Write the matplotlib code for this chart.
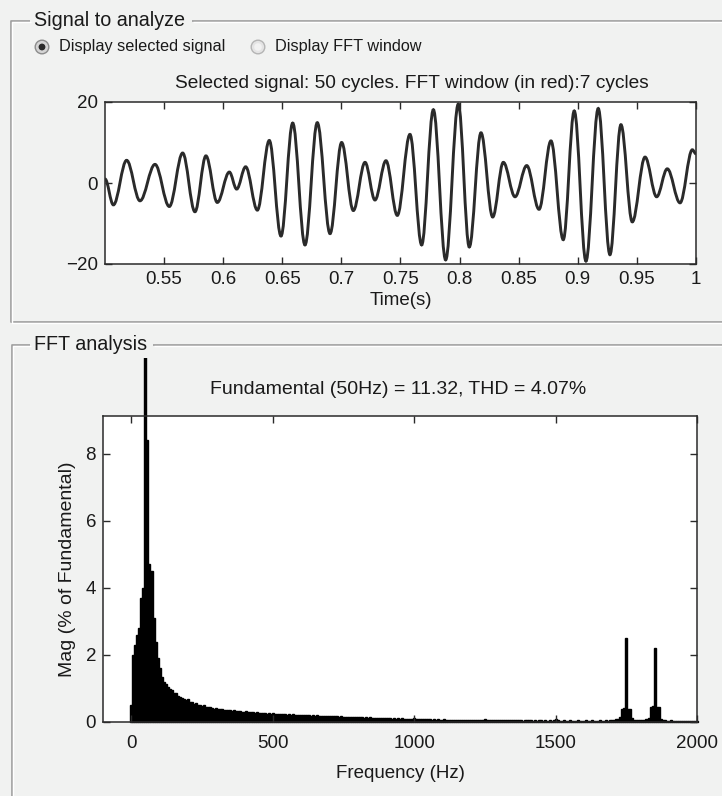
import numpy as np
import matplotlib
matplotlib.use("Agg")
import matplotlib.pyplot as plt
from matplotlib.path import Path
from matplotlib.patches import PathPatch, Circle, Rectangle

plt.rcParams['font.family'] = ['Liberation Sans', 'DejaVu Sans']

# ---------------- data ----------------
# extremes of the selected signal (time s, value)
sig_t = [0.5000, 0.5071, 0.5183, 0.5296, 0.5423, 0.5544, 0.5657, 0.5761, 0.5854, 0.5950,
         0.6052, 0.6114, 0.6190, 0.6289, 0.6390, 0.6489, 0.6588, 0.6692, 0.6796, 0.6904,
         0.7002, 0.7101, 0.7200, 0.7284, 0.7377, 0.7473, 0.7580, 0.7679, 0.7778, 0.7882,
         0.7989, 0.8082, 0.8181, 0.8280, 0.8370, 0.8469, 0.8568, 0.8672, 0.8773, 0.8877,
         0.8970, 0.9069, 0.9173, 0.9272, 0.9365, 0.9461, 0.9569, 0.9667, 0.9757, 0.9865,
         0.9969, 1.0000]
sig_v = [1.0, -5.4, 5.6, -4.4, 4.6, -5.8, 7.4, -7.1, 6.7, -4.8,
         2.7, -1.5, 4.0, -6.7, 10.5, -13.1, 14.8, -15.3, 14.9, -12.5,
         10.0, -6.8, 5.1, -4.2, 5.5, -8.0, 12.0, -15.3, 18.1, -19.0,
         19.5, -15.8, 12.4, -8.4, 5.1, -3.4, 4.3, -6.5, 10.4, -14.0,
         17.8, -19.3, 18.4, -17.7, 14.4, -9.6, 6.4, -3.4, 3.5, -4.9,
         8.2, 7.2]

time_ticks = [0.55, 0.6, 0.65, 0.7, 0.75, 0.8, 0.85, 0.9, 0.95, 1.0]
time_tick_labels = ['0.55', '0.6', '0.65', '0.7', '0.75', '0.8', '0.85', '0.9', '0.95', '1']
sig_yticks = [-20, 0, 20]

# FFT spectrum, bin resolution 50/7 Hz (7-cycle window), values in % of fundamental
bin_hz = 50.0 / 7.0
mag = [
    0.50, 2.00, 2.30, 2.60, 2.80, 3.70, 4.00, 100.0, 8.40, 4.70,
    4.50, 3.10, 2.40, 1.90, 1.60, 1.35, 1.20, 1.12, 1.05, 0.98,
    0.95, 0.88, 0.86, 0.78, 0.76, 0.72, 0.70, 0.66, 0.68, 0.61,
    0.60, 0.55, 0.57, 0.52, 0.50, 0.48, 0.50, 0.45, 0.44, 0.46,
    0.42, 0.40, 0.43, 0.39, 0.38, 0.40, 0.36, 0.37, 0.35, 0.36,
    0.34, 0.35, 0.33, 0.32, 0.34, 0.31, 0.30, 0.32, 0.30, 0.29,
    0.30, 0.28, 0.29, 0.27, 0.28, 0.26, 0.27, 0.25, 0.27, 0.25,
    0.26, 0.24, 0.25, 0.23, 0.25, 0.23, 0.24, 0.22, 0.23, 0.22,
    0.23, 0.21, 0.22, 0.21, 0.22, 0.20, 0.21, 0.20, 0.21, 0.19,
    0.20, 0.19, 0.20, 0.18, 0.19, 0.18, 0.19, 0.17, 0.18, 0.17,
    0.18, 0.17, 0.17, 0.16, 0.17, 0.16, 0.16, 0.15, 0.16, 0.15,
    0.15, 0.14, 0.16, 0.14, 0.15, 0.13, 0.14, 0.13, 0.14, 0.12,
    0.13, 0.12, 0.13, 0.12, 0.12, 0.11, 0.12, 0.11, 0.12, 0.10,
    0.11, 0.10, 0.11, 0.10, 0.11, 0.09, 0.10, 0.09, 0.10, 0.09,
    0.12, 0.09, 0.09, 0.08, 0.09, 0.08, 0.09, 0.08, 0.08, 0.07,
    0.08, 0.07, 0.08, 0.07, 0.07, 0.08, 0.07, 0.06, 0.07, 0.07,
    0.06, 0.07, 0.06, 0.07, 0.06, 0.06, 0.07, 0.06, 0.06, 0.05,
    0.06, 0.07, 0.06, 0.05, 0.06, 0.08, 0.06, 0.05, 0.06, 0.05,
    0.06, 0.05, 0.06, 0.05, 0.05, 0.06, 0.07, 0.05, 0.05, 0.06,
    0.05, 0.05, 0.06, 0.05, 0.04, 0.05, 0.05, 0.06, 0.05, 0.04,
    0.05, 0.04, 0.05, 0.05, 0.04, 0.05, 0.04, 0.05, 0.04, 0.05,
    0.10, 0.05, 0.04, 0.04, 0.05, 0.04, 0.04, 0.05, 0.04, 0.04,
    0.04, 0.05, 0.04, 0.04, 0.04, 0.05, 0.04, 0.04, 0.05, 0.04,
    0.04, 0.04, 0.05, 0.04, 0.04, 0.05, 0.04, 0.05, 0.06, 0.07,
    0.08, 0.10, 0.14, 0.40, 0.42, 2.50, 0.40, 0.38, 0.12, 0.07,
    0.05, 0.05, 0.06, 0.05, 0.06, 0.08, 0.12, 0.45, 0.48, 2.22,
    0.46, 0.44, 0.10, 0.06, 0.05, 0.04, 0.04, 0.05, 0.04, 0.04,
    0.04, 0.04, 0.03, 0.04, 0.04, 0.03, 0.04, 0.03, 0.04, 0.03, 0.03,
]
freq_ticks = [0, 500, 1000, 1500, 2000]
mag_yticks = [0, 2, 4, 6, 8]

title_top = "Selected signal: 50 cycles. FFT window (in red):7 cycles"
title_bot = "Fundamental (50Hz) = 11.32, THD = 4.07%"

# ---------------- figure ----------------
W, H = 722, 796
BG = '#f1f2f1'
fig = plt.figure(figsize=(W / 100, H / 100), dpi=100, facecolor=BG)

# background/decoration layer in pixel coordinates
axbg = fig.add_axes([0, 0, 1, 1], zorder=-1)
axbg.set_xlim(0, W)
axbg.set_ylim(H, 0)
axbg.axis('off')


def px_axes(l, t, r, b):
    return fig.add_axes([l / W, 1 - b / H, (r - l) / W, (b - t) / H])


def frame_line(xs, ys):
    axbg.plot(xs, ys, color='#a3a3a3', lw=1.3, solid_capstyle='butt')
    axbg.plot([x + 1.3 for x in xs], [y + 1.3 for y in ys], color='#ffffff', lw=1.0,
              solid_capstyle='butt')


# Panel 1: "Signal to analyze"
frame_line([30, 11, 11, 722], [21, 21, 322, 322])
frame_line([192, 722], [21, 21])
axbg.text(34, 20, "Signal to analyze", fontsize=14.2, va='center', ha='left', color='#1a1a1a')
# Panel 2: "FFT analysis"
frame_line([30, 12, 12], [345, 345, 796])
frame_line([153, 722], [345, 345])
axbg.text(34, 344, "FFT analysis", fontsize=14.2, va='center', ha='left', color='#1a1a1a')

# radio buttons
axbg.add_patch(Circle((42, 47), 6.8, facecolor='#d4d4d4', edgecolor='#8c8c8c', lw=1.0))
axbg.add_patch(Circle((42, 47), 3.4, facecolor='#2a2a2a', edgecolor='none'))
axbg.text(59, 47, "Display selected signal", fontsize=11.7, va='center', ha='left', color='#1a1a1a')
axbg.add_patch(Circle((258, 47), 6.8, facecolor='#e4e4e4', edgecolor='#b4b4b4', lw=1.0))
axbg.add_patch(Circle((258, 47), 3.8, facecolor='#f2f2f2', edgecolor='none'))
axbg.text(275, 47, "Display FFT window", fontsize=11.7, va='center', ha='left', color='#1a1a1a')

# titles
axbg.text(412, 83, title_top, fontsize=13.8, ha='center', va='center', color='#1a1a1a')
axbg.text(398, 390, title_bot, fontsize=14.0, ha='center', va='center', color='#1a1a1a')


def style(ax):
    ax.set_facecolor('white')
    for s in ax.spines.values():
        s.set_linewidth(1.1)
        s.set_color('#2a2a2a')
    ax.tick_params(direction='in', top=True, right=True, length=5, width=1.0,
                   colors='#2a2a2a', labelsize=13.5, pad=5, labelcolor='#1a1a1a')


# ---- top: signal ----
ax1 = px_axes(105, 102, 696, 264)
style(ax1)
assert len(sig_t) == len(sig_v)
k = 0.36
verts = [(sig_t[0], sig_v[0])]
codes = [Path.MOVETO]
for i in range(len(sig_t) - 1):
    dt = sig_t[i + 1] - sig_t[i]
    verts += [(sig_t[i] + k * dt, sig_v[i]), (sig_t[i + 1] - k * dt, sig_v[i + 1]),
              (sig_t[i + 1], sig_v[i + 1])]
    codes += [Path.CURVE4] * 3
ax1.add_patch(PathPatch(Path(verts, codes), fill=False, edgecolor='#2a2a2a', lw=2.1))
ax1.set_xlim(0.5, 1.0)
ax1.set_ylim(-20, 20)
ax1.set_xticks(time_ticks)
ax1.set_xticklabels(time_tick_labels)
ax1.set_yticks(sig_yticks)
ax1.set_xlabel("Time(s)", fontsize=13.5, labelpad=3, color='#1a1a1a')

# ---- bottom: spectrum ----
ax2 = px_axes(103, 416, 697, 722)
style(ax2)
ax2.tick_params(axis='x', pad=9.5)
freqs = np.arange(len(mag)) * bin_hz
bars = ax2.bar(freqs, mag, width=bin_hz, color='black', edgecolor='black', linewidth=1.0,
               align='center')
clip_rect = Rectangle((0, 358), W, H - 358, transform=axbg.transData)
for b in bars:
    b.set_clip_path(clip_rect)
ax2.set_xlim(-100, 2000)
ax2.set_ylim(0, 9.13)
ax2.set_xticks(freq_ticks)
ax2.set_yticks(mag_yticks)
ax2.set_xlabel("Frequency (Hz)", fontsize=13.5, labelpad=9, color='#1a1a1a')
ax2.set_ylabel("Mag (% of Fundamental)", fontsize=14, labelpad=7, color='#1a1a1a')

fig.savefig("out.png", dpi=100, facecolor=BG)
